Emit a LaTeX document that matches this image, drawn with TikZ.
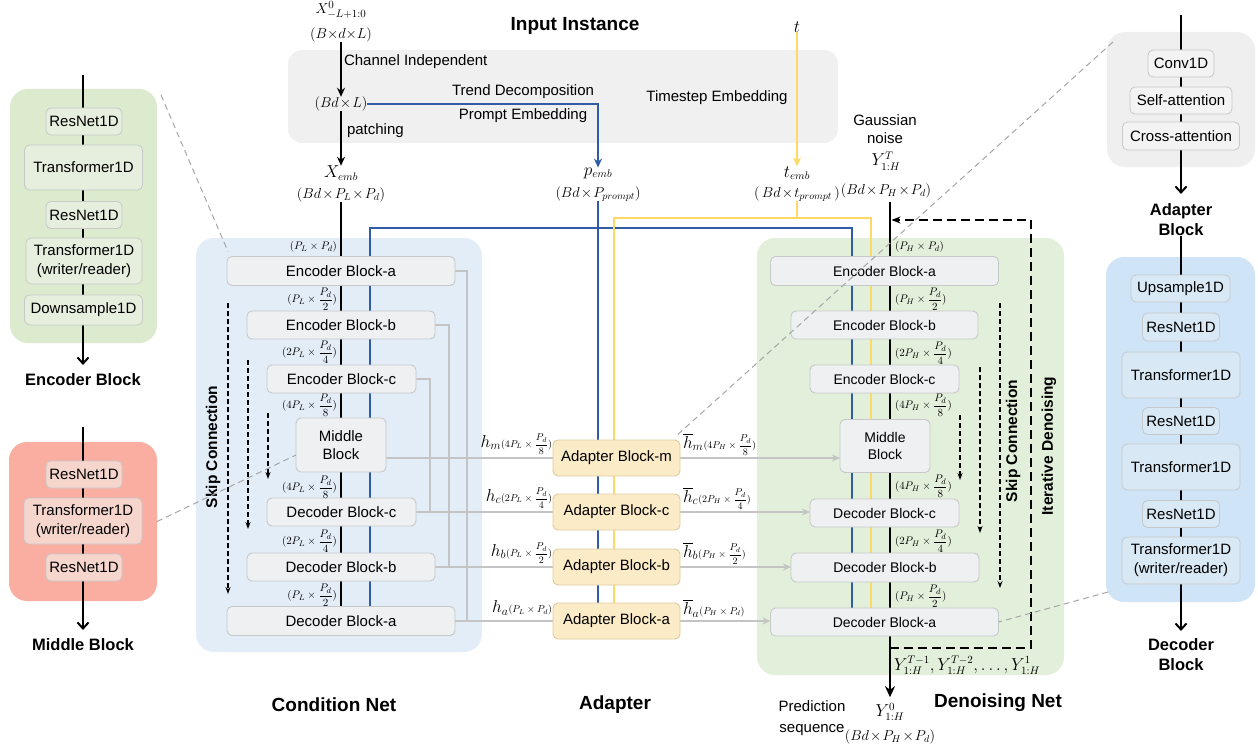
\documentclass[tikz,border=0pt]{standalone}
\usepackage{fontspec}
\setmainfont{Liberation Sans}
\usepackage{amsmath}
\usetikzlibrary{arrows.meta,calc}
\pgfdeclarelayer{panels}
\pgfdeclarelayer{lines}
\pgfsetlayers{panels,lines,main}
\definecolor{inbg}{HTML}{F0F0F0}
\definecolor{condbg}{HTML}{E3EDF8}
\definecolor{denbg}{HTML}{E2EFDA}
\definecolor{blkfill}{HTML}{EEF0F2}
\definecolor{blkline}{HTML}{C6C8CA}
\definecolor{adpfill}{HTML}{FCEBC7}
\definecolor{adpline}{HTML}{DCCB9E}
\definecolor{encbg}{HTML}{DCEBCD}
\definecolor{encsub}{HTML}{E6EFDE}
\definecolor{midbg}{HTML}{F9AEA1}
\definecolor{midsub}{HTML}{F6D5CD}
\definecolor{adbg}{HTML}{EFEFEF}
\definecolor{adsub}{HTML}{F3F3F3}
\definecolor{decbg}{HTML}{CFE5F7}
\definecolor{decsub}{HTML}{D8E8F4}
\definecolor{pblue}{HTML}{2F5BA7}
\definecolor{tyellow}{HTML}{FFD966}
\definecolor{skipgray}{HTML}{C4C4C4}
\newcommand{\fsz}[2]{\fontsize{#1}{#2}\selectfont}
\newcommand{\tx}{\mskip1.5mu{\times}\mskip1.5mu}
\newcommand{\hlab}[2]{{\fsz{17}{19}$#1$}{\fsz{10}{12}$(#2)$}}
\begin{document}
\begin{tikzpicture}[x=1pt,y=-1pt,
  every node/.style={inner sep=0pt,outer sep=0pt},
  panel/.style={rounded corners=18pt},
  blk/.style={draw=blkline,fill=blkfill,line width=0.9pt,rounded corners=5pt,align=center,font=\fsz{15}{18}},
  dblk/.style={blk,font=\fsz{14}{17}},
  adp/.style={blk,draw=adpline,fill=adpfill,minimum width=127pt,minimum height=36pt},
  sub/.style={draw=blkline,line width=0.8pt,rounded corners=5pt,align=center,font=\fsz{15}{19}},
  ttl/.style={font=\fsz{19}{22}\bfseries},
  ptl/.style={font=\fsz{16.5}{20}\bfseries,align=center},
  side/.style={font=\fsz{15.5}{18}\bfseries,rotate=90},
  lbl/.style={font=\fsz{15}{18},align=center},
  mth/.style={font=\fsz{14}{16}},
  big/.style={font=\fsz{16}{18}},
  dimlab/.style={font=\fsz{11}{13}},
  mainln/.style={line width=2.8pt},
  arr/.style={line width=1.8pt,-{Stealth[length=9pt,width=8pt]}},
  bl/.style={pblue,line width=1.8pt},
  yl/.style={tyellow,line width=1.8pt},
  skip/.style={skipgray,line width=1.4pt},
  skiparr/.style={skipgray,line width=1.4pt,-{Stealth[length=8pt,width=7pt]}},
  dsh/.style={line width=1.3pt,dash pattern=on 5pt off 3pt,-{Stealth[length=7pt,width=5pt]}},
  iter/.style={line width=2pt,dash pattern=on 9pt off 5pt,-{Stealth[length=9pt,width=7pt]}},
  zoomln/.style={gray!70,line width=1pt,dash pattern=on 6pt off 4pt},
  inarr/.style={line width=2pt,-{Straight Barb[length=6pt,width=11pt]}},
]
\useasboundingbox (0,0) rectangle (1258,749);

\begin{pgfonlayer}{panels}
  \node[panel,fill=inbg,rounded corners=14pt,minimum width=550pt,minimum height=93pt] (inBox) at (563,96.5) {};
  \node[panel,fill=condbg,minimum width=286pt,minimum height=414pt] (condBox) at (339,445) {};
  \node[panel,fill=denbg,minimum width=307pt,minimum height=437pt] (denBox) at (910.5,456.5) {};
  \node[panel,fill=encbg,minimum width=147pt,minimum height=254pt] (encPanel) at (83.5,216) {};
  \node[panel,fill=midbg,minimum width=148pt,minimum height=159pt] (midPanel) at (83,521.5) {};
  \node[panel,fill=adbg,minimum width=148pt,minimum height=135pt] (adPanel) at (1181,99.5) {};
  \node[panel,fill=decbg,minimum width=149pt,minimum height=345pt] (decPanel) at (1180.5,429.5) {};
\end{pgfonlayer}

% input instance
\node[ttl] (inTitle) at (575,26) {Input Instance};
\node[font=\fsz{15}{17}] (x0) at (341,10) {$X^{0}_{-L+1:0}$};
\node[mth] (x0d) at (341,35) {$(B{\times}d{\times}L)$};
\node[mth] (bdl) at (341,104) {$(Bd\tx L)$};
\node[big] (xemb) at (341,173) {$X_{emb}$};
\node[mth] (xembd) at (341,195) {$(Bd\tx P_L\tx P_d)$};
\node[lbl,anchor=west] (chInd) at (344,62) {Channel Independent};
\node[lbl,anchor=west] (patch) at (347,131) {patching};
\node[lbl] (trend) at (523,92) {Trend Decomposition};
\node[lbl] (prompt) at (523,116) {Prompt Embedding};
\node[lbl] (tstep) at (717,98) {Timestep Embedding};
\node[big] (pemb) at (598,173) {$p_{emb}$};
\node[mth] (pembd) at (598,194) {$(Bd\tx P_{prompt})$};
\node[big] (tin) at (797,27) {$t$};
\node[big] (temb) at (797,173) {$t_{emb}$};
\node[mth] (tembd) at (797,194) {$(\,Bd\tx t_{prompt}\,)$};

% condition net
\node[blk,minimum width=228pt,minimum height=29pt] (cEncA) at (341,271) {Encoder Block-a};
\node[blk,minimum width=188pt,minimum height=28pt] (cEncB) at (341,325) {Encoder Block-b};
\node[blk,minimum width=149pt,minimum height=28pt] (cEncC) at (341.5,379) {Encoder Block-c};
\node[blk,minimum width=90pt,minimum height=54pt] (cMid) at (341,445) {Middle\\Block};
\node[blk,minimum width=149pt,minimum height=28pt] (cDecC) at (341.5,512) {Decoder Block-c};
\node[blk,minimum width=188pt,minimum height=28pt] (cDecB) at (341,567) {Decoder Block-b};
\node[blk,minimum width=228pt,minimum height=29pt] (cDecA) at (341,621) {Decoder Block-a};
\node[dimlab,anchor=east] (cd1) at (337,247) {$(P_L\times P_d)$};
\node[dimlab,anchor=east] (cd2) at (337,299) {$(P_L\times\dfrac{P_d}{2})$};
\node[dimlab,anchor=east] (cd3) at (337,352) {$(2P_L\times\dfrac{P_d}{4})$};
\node[dimlab,anchor=east] (cd4) at (337,405) {$(4P_L\times\dfrac{P_d}{8})$};
\node[dimlab,anchor=east] (cd5) at (337,487) {$(4P_L\times\dfrac{P_d}{8})$};
\node[dimlab,anchor=east] (cd6) at (337,541) {$(2P_L\times\dfrac{P_d}{4})$};
\node[dimlab,anchor=east] (cd7) at (337,595) {$(P_L\times\dfrac{P_d}{2})$};
\node[side] (cSkip) at (213,447) {Skip Connection};
\draw[dsh] (228,303) -- (228,594);
\draw[dsh] (248,360) -- (248,529);
\draw[dsh] (268,413) -- (268,479);
\node[ttl] (condTitle) at (334,705) {Condition Net};

% adapter
\node[adp] (adM) at (616.5,458) {Adapter Block-m};
\node[adp] (adC) at (616.5,512) {Adapter Block-c};
\node[adp] (adB) at (616.5,567) {Adapter Block-b};
\node[adp] (adA) at (616.5,621) {Adapter Block-a};
\node[anchor=east] (hm) at ([xshift=-1pt,yshift=14pt]adM.west) {\hlab{h_m}{4P_L\times\dfrac{P_d}{8}}};
\node[anchor=east] (hc) at ([xshift=-1pt,yshift=14pt]adC.west) {\hlab{h_c}{2P_L\times\dfrac{P_d}{4}}};
\node[anchor=east] (hb) at ([xshift=-1pt,yshift=14pt]adB.west) {\hlab{h_b}{P_L\times\dfrac{P_d}{2}}};
\node[anchor=east] (ha) at ([xshift=-1pt,yshift=13pt]adA.west) {\hlab{h_a}{P_L\times P_d}};
\node[anchor=west] (hbm) at ([xshift=3pt,yshift=14pt]adM.east) {\hlab{\overline{h}_m}{4P_H\times\dfrac{P_d}{8}}};
\node[anchor=west] (hbc) at ([xshift=3pt,yshift=14pt]adC.east) {\hlab{\overline{h}_c}{2P_H\times\dfrac{P_d}{4}}};
\node[anchor=west] (hbb) at ([xshift=3pt,yshift=14pt]adB.east) {\hlab{\overline{h}_b}{P_H\times\dfrac{P_d}{2}}};
\node[anchor=west] (hba) at ([xshift=3pt,yshift=13pt]adA.east) {\hlab{\overline{h}_a}{P_H\times P_d}};
\node[ttl] (adTitle) at (615,705) {Adapter};

% denoising net
\node[dblk,minimum width=228pt,minimum height=29pt] (dEncA) at (884.5,271) {Encoder Block-a};
\node[dblk,minimum width=187pt,minimum height=28pt] (dEncB) at (884.5,325) {Encoder Block-b};
\node[dblk,minimum width=149pt,minimum height=28pt] (dEncC) at (884.5,379) {Encoder Block-c};
\node[dblk,minimum width=90pt,minimum height=53pt] (dMid) at (885,446) {Middle\\Block};
\node[dblk,minimum width=149pt,minimum height=28pt] (dDecC) at (884.5,513) {Decoder Block-c};
\node[dblk,minimum width=188pt,minimum height=29pt] (dDecB) at (885,567.5) {Decoder Block-b};
\node[dblk,minimum width=228pt,minimum height=28pt] (dDecA) at (884.5,622) {Decoder Block-a};
\node[dimlab,anchor=west] (dd1) at (895,247) {$(P_H\times P_d)$};
\node[dimlab,anchor=west] (dd2) at (895,299) {$(P_H\times\dfrac{P_d}{2})$};
\node[dimlab,anchor=west] (dd3) at (895,353) {$(2P_H\times\dfrac{P_d}{4})$};
\node[dimlab,anchor=west] (dd4) at (895,405) {$(4P_H\times\dfrac{P_d}{8})$};
\node[dimlab,anchor=west] (dd5) at (895,486) {$(4P_H\times\dfrac{P_d}{8})$};
\node[dimlab,anchor=west] (dd6) at (895,541) {$(2P_H\times\dfrac{P_d}{4})$};
\node[dimlab,anchor=west] (dd7) at (895,596) {$(P_H\times\dfrac{P_d}{2})$};
\node[side] (dSkip) at (1013,441) {Skip Connection};
\node[side] (dIter) at (1049,446) {Iterative Denoising};
\draw[dsh] (1000,303) -- (1000,588);
\draw[dsh] (980,367) -- (980,533);
\draw[dsh] (960,415) -- (960,480);
\node[lbl] (gauss) at (885,129) {Gaussian\\noise};
\node[big] (yT) at (886,161) {$Y^{T}_{1:H}$};
\node[mth] (yTd) at (886,191) {$(Bd\tx P_H\tx P_d)$};
\node[big] (yseq) at (967,665) {$Y^{T-1}_{1:H},Y^{T-2}_{1:H},\dots,Y^{1}_{1:H}$};
\node[lbl,font=\fsz{15}{21}] (pred) at (812,718) {Prediction\\sequence};
\node[big] (y0) at (890,712) {$Y^{0}_{1:H}$};
\node[mth] (y0d) at (890,737) {$(Bd\tx P_H\tx P_d)$};
\node[ttl] (denTitle) at (998,703) {Denoising Net};
\coordinate (dTop) at (890,202);
\coordinate (itS) at (890,648);
\coordinate (itE) at (891.5,220);

% side panels
\node[sub,fill=encsub,minimum width=76pt,minimum height=27pt] (e1) at (84,121.5) {ResNet1D};
\node[sub,fill=encsub,minimum width=118pt,minimum height=45pt] (e2) at (83.5,167.5) {Transformer1D};
\node[sub,fill=encsub,minimum width=76pt,minimum height=27pt] (e3) at (84,215) {ResNet1D};
\node[sub,fill=encsub,minimum width=116pt,minimum height=46pt] (e4) at (84,261) {Transformer1D\\(writer/reader)};
\node[sub,fill=encsub,minimum width=118pt,minimum height=30pt] (e5) at (83.5,310) {Downsample1D};
\node[ptl] (encT) at (83,380) {Encoder Block};
\coordinate (encIn) at (83,75);
\node[sub,fill=midsub,minimum width=76pt,minimum height=27pt] (m1) at (84,474.5) {ResNet1D};
\node[sub,fill=midsub,minimum width=118pt,minimum height=46pt] (m2) at (83,521) {Transformer1D\\(writer/reader)};
\node[sub,fill=midsub,minimum width=76pt,minimum height=27pt] (m3) at (84,567.5) {ResNet1D};
\node[ptl] (midT) at (83,645) {Middle Block};
\coordinate (midIn) at (83,427);
\node[sub,fill=adsub,minimum width=66pt,minimum height=27pt] (a1) at (1181,63.5) {Conv1D};
\node[sub,fill=adsub,minimum width=102pt,minimum height=27pt] (a2) at (1181,100.5) {Self-attention};
\node[sub,fill=adsub,minimum width=117pt,minimum height=28pt] (a3) at (1181,136) {Cross-attention};
\node[ptl] (adT) at (1181,220) {Adapter\\Block};
\coordinate (adIn) at (1181,15);
\node[sub,fill=decsub,minimum width=99pt,minimum height=27pt] (d1) at (1180.5,288.5) {Upsample1D};
\node[sub,fill=decsub,minimum width=77pt,minimum height=28pt] (d2) at (1181,327) {ResNet1D};
\node[sub,fill=decsub,minimum width=118pt,minimum height=46pt] (d3) at (1181,375) {Transformer1D};
\node[sub,fill=decsub,minimum width=77pt,minimum height=27pt] (d4) at (1181,421) {ResNet1D};
\node[sub,fill=decsub,minimum width=118pt,minimum height=46pt] (d5) at (1181,467) {Transformer1D};
\node[sub,fill=decsub,minimum width=77pt,minimum height=27pt] (d6) at (1181,514) {ResNet1D};
\node[sub,fill=decsub,minimum width=118pt,minimum height=47pt] (d7) at (1181,560.5) {Transformer1D\\(writer/reader)};
\node[ptl] (decT) at (1181,655) {Decoder\\Block};

\begin{pgfonlayer}{lines}
  \draw[arr] (x0d.south) -- (bdl.north);
  \draw[arr] (bdl.south) -- (xemb.north);
  \draw[mainln] (xembd.south) -- (xembd.south |- cDecA.north);
  \draw[bl,-{Stealth[length=9pt,width=8pt]}] (bdl.east) -| (pemb.north);
  \draw[bl] (pembd.south) -- (pembd.south |- adA.north);
  \coordinate (bL) at (370,228);
  \coordinate (bR) at (852,228);
  \draw[bl] (bL |- cDecA.north) -- (bL) -- (bR) -- (bR |- dDecA.north);
  \draw[yl,-{Stealth[length=9pt,width=8pt]}] (tin.south) -- (temb.north);
  \coordinate (yL) at (614,218);
  \coordinate (yR) at (871,218);
  \draw[yl] (tembd.south) -- (tembd.south |- yL);
  \draw[yl] (yL |- adA.north) -- (yL) -- (yR) -- (yR |- dDecA.north);
  \draw[skip] (cEncA.east) -- ++(12,0) |- (adA.west);
  \draw[skip] (cEncB.east) -- ++(14,0) |- (adB.west);
  \draw[skip] (cEncC.east) -- ++(14,0) |- (adC.west);
  \draw[skip] (cMid.east |- adM.west) -- (adM.west);
  \draw[skip] (cDecC.east) -- (adC.west);
  \draw[skip] (cDecB.east) -- (adB.west);
  \draw[skip] (cDecA.east) -- (adA.west);
  \draw[skiparr] (adM.east) -- (adM.east -| dMid.west);
  \draw[skiparr] (adC.east) -- (adC.east -| dDecC.west);
  \draw[skiparr] (adB.east) -- (adB.east -| dDecB.west);
  \draw[skiparr] (adA.east) -- (adA.east -| dDecA.west);
  \draw[mainln,-{Stealth[length=11pt,width=10pt]}] (dTop) -- ([yshift=6pt]y0.north);
  \draw[iter] (itS) -- ++(141,0) |- (itE);
  \draw[inarr] (encIn) -- ([yshift=9pt]encT.north);
  \draw[inarr] (midIn) -- ([yshift=9pt]midT.north);
  \draw[inarr] (adIn) -- ([yshift=10pt]adT.north);
  \draw[inarr] (adT.south) -- ([yshift=8pt]decT.north);
\end{pgfonlayer}

\draw[zoomln] ([xshift=4pt,yshift=-6pt]encPanel.north east) -- ([xshift=1pt,yshift=5pt]cEncA.north west);
\draw[zoomln] (midPanel.east) -- ([yshift=-10pt]cMid.west);
\draw[zoomln] ([xshift=6pt,yshift=-10pt]adPanel.north west) -- ([xshift=-5pt,yshift=3pt]adM.north east);
\draw[zoomln] ([xshift=2pt,yshift=10pt]decPanel.south west) -- (dDecA.east);
\end{tikzpicture}
\end{document}
